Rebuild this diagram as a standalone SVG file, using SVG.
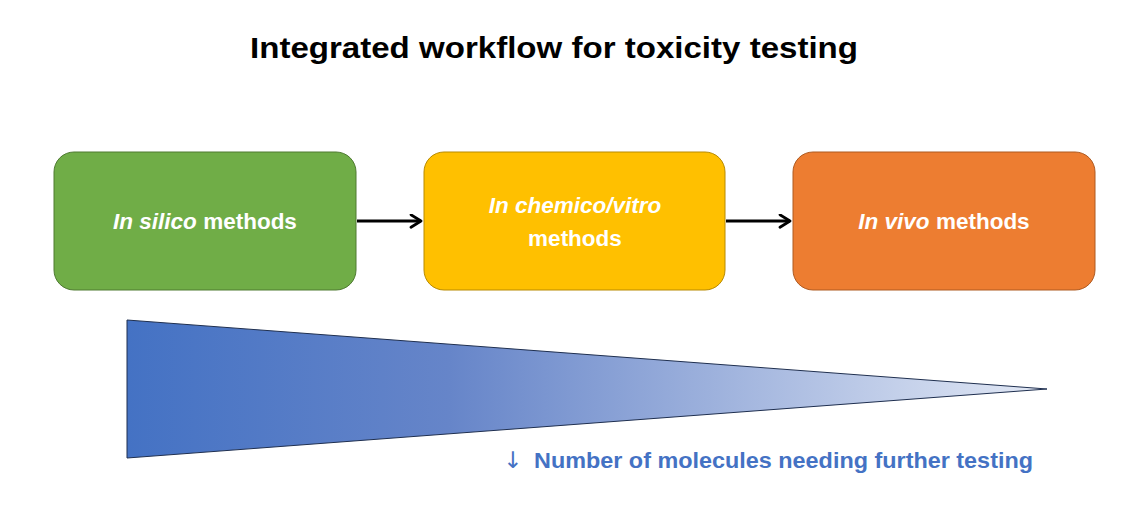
<svg xmlns="http://www.w3.org/2000/svg" width="1140" height="529" viewBox="0 0 1140 529">
<style>
.t{font-family:"Liberation Sans",Arial,sans-serif;font-weight:bold;}
.bt{font-family:"Liberation Sans",Arial,sans-serif;font-weight:bold;font-size:22.5px;fill:#fff;text-anchor:middle;}
.conn{stroke:#000;stroke-width:3;fill:none;}
</style>
<defs>
<marker id="ah" viewBox="0 0 12 12" refX="10" refY="6" markerWidth="5" markerHeight="5" markerUnits="strokeWidth" orient="auto">
<path d="M2,1 L10,6 L2,11" fill="none" stroke="#000" stroke-width="2.2" stroke-linecap="round" stroke-linejoin="round"/>
</marker>
<linearGradient id="g" x1="0" y1="0" x2="1" y2="0">
<stop offset="0" stop-color="#4472C4"/>
<stop offset="0.35" stop-color="#6685C9"/>
<stop offset="1" stop-color="#E3E9F5"/>
</linearGradient>
</defs>
<rect width="1140" height="529" fill="#fff"/>
<text class="t" x="554" y="58" font-size="29" text-anchor="middle" textLength="608" lengthAdjust="spacingAndGlyphs">Integrated workflow for toxicity testing</text>
<g id="connectors">
<line class="conn" x1="357" y1="221" x2="421" y2="221" marker-end="url(#ah)"/>
<line class="conn" x1="726" y1="221" x2="790" y2="221" marker-end="url(#ah)"/>
</g>
<g id="node-silico">
<rect x="54" y="152" width="302" height="138" rx="20" fill="#70AD47" stroke="#4E7A31" stroke-width="1"/>
<text class="bt" x="205" y="229"><tspan font-style="italic">In silico</tspan> methods</text>
</g>
<g id="node-chemico">
<rect x="424" y="152" width="301" height="138" rx="20" fill="#FFC000" stroke="#B88A00" stroke-width="1"/>
<text class="bt" x="575" y="213" font-style="italic">In chemico/vitro</text>
<text class="bt" x="575" y="246">methods</text>
</g>
<g id="node-vivo">
<rect x="793" y="152" width="302" height="138" rx="20" fill="#ED7D31" stroke="#AE5A21" stroke-width="1"/>
<text class="bt" x="944" y="229"><tspan font-style="italic">In vivo</tspan> methods</text>
</g>
<g id="funnel">
<polygon points="127,320 1047,389 127,458" fill="url(#g)" stroke="#1F2F4F" stroke-width="1"/>
<text x="503" y="468" font-family="DejaVu Sans, sans-serif" font-size="23" fill="#4472C4">↓</text>
<text class="t" x="534" y="468" font-size="21.5" fill="#4472C4" textLength="499" lengthAdjust="spacingAndGlyphs">Number of molecules needing further testing</text>
</g>
</svg>
